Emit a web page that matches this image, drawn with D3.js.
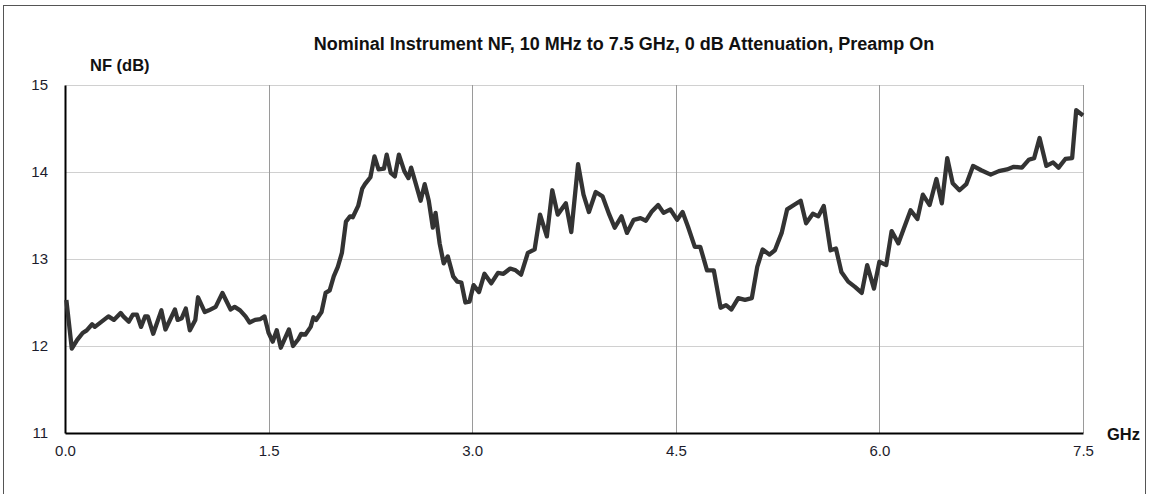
<!DOCTYPE html>
<html>
<head>
<meta charset="utf-8">
<script src="https://cdn.jsdelivr.net/npm/d3@7"></script>
<style>
html,body{margin:0;padding:0;background:#fff;}
svg{display:block;font-family:"Liberation Sans",Arial,sans-serif;}
</style>
</head>
<body>
<svg id="chart" width="1149" height="494"></svg>
<script>
const title = "Nominal Instrument NF, 10 MHz to 7.5 GHz, 0 dB Attenuation, Preamp On";
const yLabel = "NF (dB)";
const xLabel = "GHz";
const xTicks = [0, 1.5, 3.0, 4.5, 6.0, 7.5];
const yTicks = [11, 12, 13, 14, 15];

const freqGHz = [
0.01,0.05,0.09,0.13,0.16,0.20,0.22,0.27,0.32,0.36,0.41,0.43,0.47,0.50,0.53,0.56,0.59,0.61,0.65,0.71,
0.74,0.81,0.83,0.86,0.89,0.92,0.96,0.98,1.03,1.06,1.11,1.16,1.22,1.25,1.29,1.33,1.36,1.40,1.44,1.47,
1.50,1.53,1.56,1.59,1.65,1.68,1.72,1.74,1.77,1.81,1.83,1.85,1.89,1.92,1.95,1.98,2.01,2.04,2.07,2.10,
2.12,2.16,2.19,2.21,2.25,2.28,2.31,2.35,2.37,2.40,2.43,2.46,2.50,2.53,2.55,2.58,2.62,2.65,2.68,2.71,
2.73,2.76,2.79,2.82,2.86,2.89,2.92,2.95,2.98,3.01,3.05,3.09,3.14,3.19,3.23,3.28,3.32,3.36,3.41,3.46,
3.50,3.55,3.59,3.63,3.69,3.73,3.78,3.82,3.86,3.91,3.96,4.01,4.05,4.10,4.14,4.19,4.24,4.28,4.32,4.37,
4.41,4.46,4.51,4.55,4.59,4.64,4.68,4.73,4.78,4.83,4.87,4.91,4.96,5.01,5.06,5.10,5.14,5.19,5.23,5.28,
5.32,5.37,5.42,5.46,5.51,5.55,5.59,5.64,5.68,5.72,5.77,5.82,5.87,5.91,5.96,6.00,6.05,6.09,6.14,6.18,
6.23,6.28,6.32,6.37,6.42,6.46,6.50,6.54,6.59,6.64,6.69,6.75,6.82,6.88,6.94,6.99,7.05,7.10,7.14,7.18,
7.23,7.28,7.32,7.37,7.42,7.45,7.50
];
const nfDb = [
12.53,11.97,12.07,12.15,12.18,12.25,12.22,12.28,12.34,12.30,12.38,12.34,12.28,12.36,12.36,12.22,12.34,12.34,12.14,12.41,
12.19,12.42,12.30,12.32,12.43,12.18,12.30,12.56,12.39,12.41,12.45,12.61,12.42,12.45,12.41,12.34,12.27,12.30,12.31,12.34,
12.15,12.05,12.18,11.98,12.19,12.00,12.08,12.14,12.13,12.22,12.33,12.30,12.39,12.61,12.64,12.80,12.91,13.07,13.43,13.49,
13.48,13.61,13.81,13.86,13.94,14.18,14.03,14.04,14.20,13.99,13.95,14.20,14.01,13.93,14.05,13.89,13.67,13.86,13.67,13.36,
13.53,13.18,12.95,13.03,12.80,12.74,12.73,12.50,12.51,12.70,12.62,12.83,12.72,12.84,12.83,12.89,12.87,12.82,13.07,13.11,
13.51,13.26,13.79,13.51,13.64,13.31,14.09,13.74,13.54,13.77,13.72,13.51,13.36,13.49,13.30,13.45,13.47,13.44,13.54,13.62,
13.53,13.57,13.45,13.54,13.37,13.14,13.14,12.87,12.87,12.44,12.47,12.42,12.55,12.53,12.55,12.91,13.11,13.05,13.10,13.30,
13.57,13.62,13.67,13.41,13.52,13.49,13.61,13.10,13.12,12.85,12.74,12.68,12.61,12.93,12.66,12.97,12.93,13.32,13.18,13.35,
13.56,13.46,13.74,13.62,13.92,13.64,14.16,13.87,13.79,13.86,14.07,14.02,13.97,14.01,14.03,14.06,14.05,14.14,14.16,14.39,
14.07,14.11,14.05,14.15,14.16,14.71,14.65
];

const data = freqGHz.map((f, i) => ({f, v: nfDb[i]}));

const svg = d3.select("#chart");
const L = 65, R = 1083, T = 85, B = 433;
const x = d3.scaleLinear().domain([0, 7.5]).range([L, R]);
const y = d3.scaleLinear().domain([11, 15]).range([B, T]);

// outer frame
svg.append("rect").attr("x", 3.5).attr("y", 5.5).attr("width", 1142).attr("height", 500)
  .attr("fill", "none").attr("stroke", "#555").attr("stroke-width", 1);

// horizontal gridlines
svg.append("g").selectAll("line").data(yTicks.filter(d => d !== 11)).join("line")
  .attr("x1", L).attr("x2", R)
  .attr("y1", d => Math.round(y(d)) + 0.5).attr("y2", d => Math.round(y(d)) + 0.5)
  .attr("stroke", "#d0d0d0").attr("stroke-width", 1.2);

// vertical gridlines
svg.append("g").selectAll("line").data(xTicks.filter(d => d !== 0)).join("line")
  .attr("x1", d => Math.round(x(d)) + 0.5).attr("x2", d => Math.round(x(d)) + 0.5)
  .attr("y1", T).attr("y2", B)
  .attr("stroke", "#9a9a9a").attr("stroke-width", 1);

// axes lines
const xAxis = d3.axisBottom(x).tickValues(xTicks).tickFormat(d3.format(".1f")).tickSize(0).tickPadding(12);
const gx = svg.append("g").attr("transform", `translate(0,${B})`).call(xAxis);
gx.select(".domain").attr("stroke", "#000").attr("stroke-width", 2);
gx.selectAll("text").attr("font-size", 15).attr("fill", "#1c1c2c")
  .attr("font-family", "'Liberation Sans Narrow','Liberation Sans',Arial,sans-serif");

const yAxis = d3.axisLeft(y).tickValues(yTicks).tickFormat(d3.format("d")).tickSize(0).tickPadding(17);
const gy = svg.append("g").attr("transform", `translate(${L},0)`).call(yAxis);
gy.select(".domain").attr("stroke", "#000").attr("stroke-width", 2);
gy.selectAll("text").attr("font-size", 15).attr("fill", "#1c1c2c")
  .attr("font-family", "'Liberation Sans Narrow','Liberation Sans',Arial,sans-serif");

// line
const line = d3.line().x(d => x(d.f)).y(d => y(d.v));
svg.append("path").datum(data).attr("d", line)
  .attr("fill", "none").attr("stroke", "#333").attr("stroke-width", 4.3)
  .attr("stroke-linejoin", "round").attr("stroke-linecap", "butt");

// labels
svg.append("text").attr("x", 624).attr("y", 50).attr("text-anchor", "middle")
  .attr("font-size", 18).attr("font-weight", "bold").attr("fill", "#111").text(title);
svg.append("text").attr("x", 90).attr("y", 71)
  .attr("font-size", 16.5).attr("font-weight", "bold").attr("fill", "#111").text(yLabel);
svg.append("text").attr("x", 1107).attr("y", 440)
  .attr("font-size", 16.5).attr("font-weight", "bold").attr("fill", "#111").text(xLabel);
</script>
</body>
</html>
